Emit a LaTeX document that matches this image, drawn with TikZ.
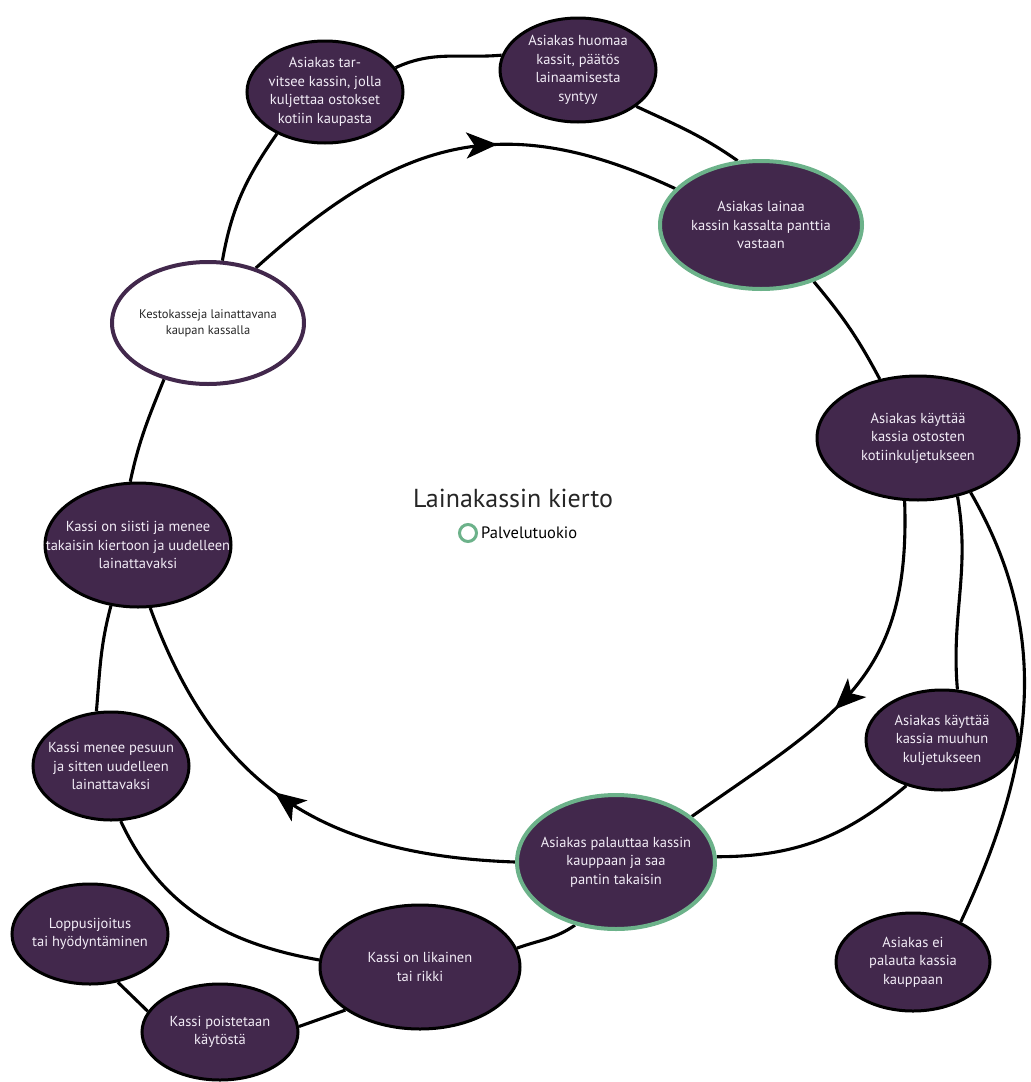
\documentclass[tikz,border=0pt]{standalone}
\usepackage{fontspec}
\setmainfont{PT Sans}
\usetikzlibrary{shapes.geometric,arrows.meta,decorations.markings,positioning,backgrounds}
\definecolor{purp}{RGB}{66,40,76}
\definecolor{mint}{RGB}{108,178,138}
\definecolor{pale}{RGB}{242,236,246}

\begin{document}
\begin{tikzpicture}[x=1pt,y=-1pt,
  bub/.style 2 args={ellipse,draw=black,line width=3pt,fill=purp,minimum width=#1,minimum height=#2,inner sep=0pt},
  palvelu/.style={draw=mint,line width=4pt},
  lab/.style={text=pale,align=center,font=\fontsize{14.5}{18.5}\selectfont},
  yht/.style={line width=3.1pt},
  kierto/.style={line width=3.1pt,postaction={decorate},decoration={markings,mark=at position #1 with {\arrow{Stealth[length=31pt,width=26pt,inset=8pt]}}}}
]
\useasboundingbox (0,0) rectangle (1031,1082);

\node[bub={156}{102},label={[lab]center:Asiakas tar-\\vitsee kassin, jolla\\kuljettaa ostokset\\kotiin kaupasta}] (tarve) at (325,92) {};
\node[bub={156}{104},label={[lab]center:Asiakas huomaa\\kassit, päätös\\lainaamisesta\\syntyy}] (huomaa) at (578,70) {};
\node[bub={202}{128},palvelu,label={[lab]center:Asiakas lainaa\\kassin kassalta panttia\\vastaan}] (lainaa) at (761,225) {};
\node[bub={202}{124},label={[lab]center:Asiakas käyttää\\kassia ostosten\\kotiinkuljetukseen}] (koti) at (918,438) {};
\node[bub={192}{122},fill=white,draw=purp,line width=4pt,label={[align=center,text=black!85,font=\fontsize{12.5}{16}\selectfont]center:Kestokasseja lainattavana\\kaupan kassalla}] (kassa) at (208,323) {};
\node[bub={186}{124},label={[lab]center:Kassi on siisti ja menee\\takaisin kiertoon ja uudelleen\\lainattavaksi}] (siisti) at (138,545) {};
\node[bub={156}{108},label={[lab]center:Kassi menee pesuun\\ja sitten uudelleen\\lainattavaksi}] (pesu) at (111,766) {};
\node[bub={152}{100},label={[lab]center:Asiakas käyttää\\kassia muuhun\\kuljetukseen}] (muu) at (942,740) {};
\node[bub={198}{134},palvelu,label={[lab]center:Asiakas palauttaa kassin\\kauppaan ja saa\\pantin takaisin}] (palautus) at (616,862) {};
\node[bub={154}{98},label={[lab]center:Asiakas ei\\palauta kassia\\kauppaan}] (eipal) at (913,962) {};
\node[bub={200}{124},label={[lab]center:Kassi on likainen\\tai rikki}] (likainen) at (420,967) {};
\node[bub={156}{100},label={[lab]center:Loppusijoitus\\tai hyödyntäminen}] (loppu) at (90,934) {};
\node[bub={156}{96},label={[lab]center:Kassi poistetaan\\käytöstä}] (poisto) at (220,1032) {};

\node[font=\fontsize{26}{30}\selectfont,text=black!85] (otsikko) at (513,498) {Lainakassin kierto};
\node[circle,draw=mint,line width=3pt,minimum size=17pt,inner sep=0pt] (merkki) at (468,533) {};
\node[right=3pt of merkki,font=\fontsize{16.5}{19}\selectfont,inner sep=0pt] (selite) {Palvelutuokio};

\begin{scope}[on background layer]
\draw[yht] (kassa.77) to[out=80,in=235] (tarve.221);
\draw[yht] (tarve.19) to[out=25,in=185] (huomaa.169);
\draw[yht] (huomaa.-32) to[out=-25,in=145] (lainaa.110);
\draw[yht] (lainaa.-47) to[out=-50,in=118] (koti.123);
\draw[yht] (kassa.232) to[out=-112,in=78] (siisti.97);
\draw[yht] (siisti.246) to[out=-105,in=85] (pesu.105);
\draw[yht] (pesu.-80) to[out=-65,in=170] (likainen.176);
\draw[yht] (poisto.164) -- (loppu.-60);
\draw[yht] (likainen.210) -- (poisto.4);
\draw[yht] (palautus.237) to[out=-145,in=20] (likainen.11);
\draw[yht] (koti.-56) to[out=-80,in=95] (muu.73);
\draw[yht] (koti.-46) to[out=-60,in=65] (eipal.40);
\draw[yht] (muu.232) to[out=-140,in=0] (palautus.3);
\draw[kierto=.6] (kassa.49) to[out=42,in=155,looseness=1.15] (lainaa.157);
\draw[kierto=.56] (koti.258) to[out=-88,in=35,looseness=1.2] (palautus.31);
\draw[kierto=.53] (palautus.180) to[out=178,in=-70,looseness=1.1] (siisti.-79);
\end{scope}
\end{tikzpicture}
\end{document}
